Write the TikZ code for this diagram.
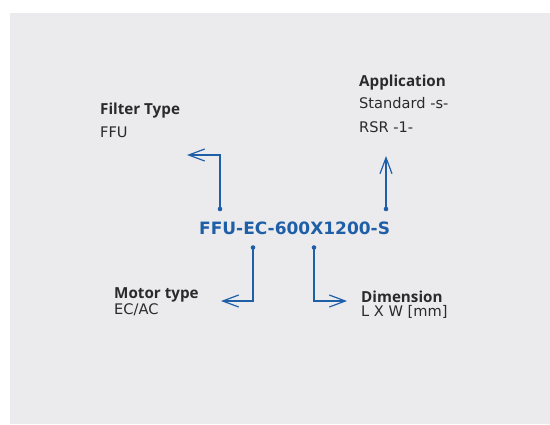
\documentclass[tikz,border=0pt]{standalone}
\usepackage{fontspec}
\setmainfont{DejaVu Sans}
\newfontfamily\headfont{Open Sans}
\usetikzlibrary{arrows.meta}
\definecolor{bgcol}{HTML}{EBEBED}
\definecolor{codeblue}{HTML}{1F5FA8}
\definecolor{txt}{HTML}{2A2A2C}
\tikzset{
  lbl/.style={anchor=base west, inner sep=0pt, text=txt, font=\fontsize{14.6}{17}\selectfont},
  lblhead/.style={lbl, font=\headfont\fontsize{15.2}{18}\selectfont\bfseries},
  conn/.style={draw=codeblue, line width=1.2pt, -{Straight Barb[length=16pt,width=12pt,line width=1.2pt]}},
  dotmark/.style={fill=codeblue, draw=none},
}
\begin{document}
\begin{tikzpicture}[x=1pt,y=-1pt]
\useasboundingbox (0,0) rectangle (550,424);
\fill[white] (0,0) rectangle (550,424);
\fill[bgcol] (10,13) rectangle (550,424);

% main code
\node[anchor=base west, inner sep=0pt, text=codeblue, font=\fontsize{17}{20}\selectfont\bfseries] (code) at (199,234.3) {FFU-EC-600X1200-S};

% labels
\node[lblhead] (ft) at (100,114) {Filter Type};
\node[lbl] (ftv) at (100,137) {FFU};
\node[lblhead] (app) at (359,86) {Application};
\node[lbl] (appv1) at (359,108) {Standard -s-};
\node[lbl] (appv2) at (359,132) {RSR -1-};
\node[lblhead] (mt) at (114,298.5) {Motor type};
\node[lbl] (mtv) at (114,314.5) {EC/AC};
\node[lblhead] (dim) at (361,302.3) {Dimension};
\node[lbl] (dimv) at (361,316.5) {L X W [mm]};

% dots
\coordinate (d1) at (220,209);
\coordinate (d2) at (386,209);
\coordinate (d3) at (253,247.5);
\coordinate (d4) at (314,247.5);
\foreach \d in {d1,d2,d3,d4} \fill[dotmark] (\d) circle (2.3pt);

% arrow ends
\coordinate (e1) at (187,155);
\coordinate (e2) at (386,156);
\coordinate (e3) at (221,301);
\coordinate (e4) at (347,301);

\draw[conn] (d1) |- (e1);
\draw[conn] (d2) -- (e2);
\draw[conn] (d3) |- (e3);
\draw[conn] (d4) |- (e4);
\end{tikzpicture}
\end{document}
